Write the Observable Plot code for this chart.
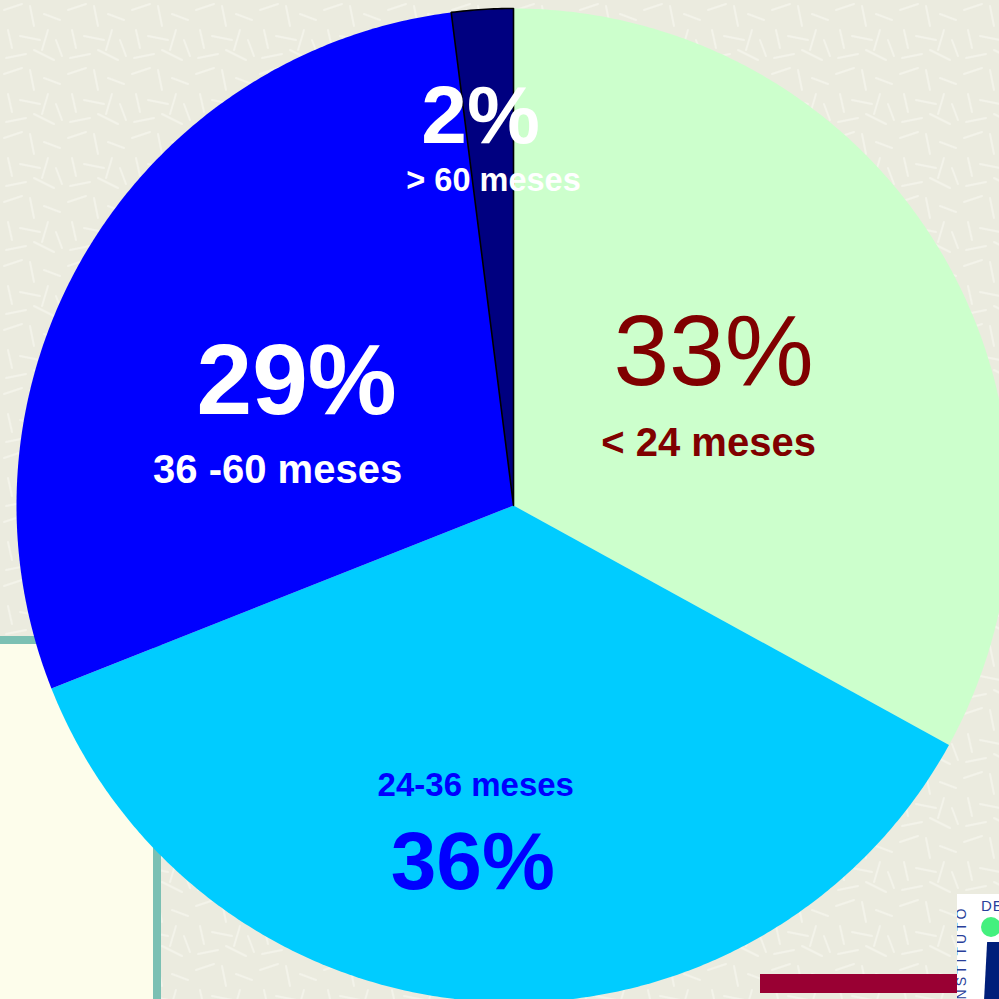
<!DOCTYPE html>
<html>
<head>
<meta charset="utf-8">
<script src="https://cdn.jsdelivr.net/npm/d3@7"></script>
<script src="https://cdn.jsdelivr.net/npm/@observablehq/plot@0.6"></script>
<style>
  html, body { margin: 0; padding: 0; }
  body { width: 999px; height: 999px; overflow: hidden; position: relative;
         background-color: #EBEBDF;
         background-image: url("data:image/svg+xml;utf8,<svg xmlns='http://www.w3.org/2000/svg' width='64' height='64'><g stroke='%23F5F5EC' stroke-width='2' stroke-linecap='round' fill='none' opacity='0.8'><path d='M4 10 L22 4'/><path d='M30 6 L34 26'/><path d='M44 14 L60 20'/><path d='M8 30 L12 48'/><path d='M20 36 L40 40'/><path d='M48 30 L42 50'/><path d='M6 58 L26 54'/><path d='M34 50 L54 60'/><path d='M56 40 L62 56'/></g></svg>");
         font-family: "Liberation Sans", Arial, sans-serif; }
  .deco { position: absolute; }
  #panel { left: 0; top: 636px; width: 153px; height: 400px; background: #FDFDEB;
           border-top: 8px solid #7BC0B3; border-right: 8px solid #7BC0B3; }
  #bar { left: 760px; top: 974px; width: 200px; height: 19px; background: #990033; }
  #logo { left: 957px; top: 894px; width: 60px; height: 120px; background: #FFFFFF; overflow: hidden; }
  #logo .v { position: absolute; left: -46px; top: 54px; transform: rotate(-90deg);
             color: #2A3F9A; font-size: 14px; letter-spacing: 3px; font-family: "Liberation Sans", Arial, sans-serif; white-space: nowrap; }
  #logo .de { position: absolute; left: 24px; top: 4px; color: #2A3F9A; font-size: 15px; letter-spacing: 1px; line-height: 15px; }
  #logo .dot { position: absolute; left: 24px; top: 23px; width: 20px; height: 20px; border-radius: 50%; background: #44F07E; }
  #logo .blk { position: absolute; left: 28px; top: 48px; width: 40px; height: 80px; background: #001E7A;
               transform: skewX(-3deg); }
  #chart { position: absolute; left: 0; top: 0; }
</style>
</head>
<body>
<div class="deco" id="panel"></div>
<div class="deco" id="bar"></div>
<div class="deco" id="logo">
  <div class="v">INSTITUTO</div>
  <div class="de">DE</div>
  <div class="dot"></div>
  <div class="blk"></div>
</div>
<div id="chart"></div>
<script>
// ---- data ----
const categories = ["< 24 meses", "24-36 meses", "36 -60 meses", "> 60 meses"];
const values = [33, 36, 29, 2];
const pctLabels = ["33%", "36%", "29%", "2%"];
const sliceColors = ["#CCFFCC", "#00CCFF", "#0000FF", "#000080"];

// ---- layout / styles (not data) ----
const R = 497;            // pie radius in px
const cx = 513, cy = 505; // pie centre in px
const W = 999, H = 999;
const labelStyle = [
  {r: 0.463, pct: [2, -3],   sub: [-3, 68],   color: "#800000", pctSize: 100, pctWeight: "normal", subSize: 40},
  {r: 0.664, pct: [-20, 54], sub: [-17, -39], color: "#0000FF", pctSize: 82,  pctWeight: "bold",   subSize: 33},
  {r: 0.521, pct: [6, 40],   sub: [-13, 109], color: "#FFFFFF", pctSize: 100, pctWeight: "bold",   subSize: 40},
  {r: 0.80,  pct: [-8, 34],  sub: [5, 82],    color: "#FFFFFF", pctSize: 82,  pctWeight: "bold",   subSize: 32.5}
];

const table = categories.map((c, i) => ({cat: c, value: values[i], pct: pctLabels[i], i}));
const arcs = d3.pie().sort(null).value(d => d.value)(table);

// polygon outline of each slice (pie geometry from d3.pie angles)
const pts = [];
arcs.forEach(a => {
  const n = Math.max(8, Math.ceil((a.endAngle - a.startAngle) * 120));
  pts.push({cat: a.data.cat, x: 0, y: 0});
  for (let k = 0; k <= n; k++) {
    const t = a.startAngle + (a.endAngle - a.startAngle) * k / n;
    pts.push({cat: a.data.cat, x: Math.sin(t), y: Math.cos(t)});
  }
  pts.push({cat: a.data.cat, x: 0, y: 0});
});

const labelMarks = [];
arcs.forEach(a => {
  const s = labelStyle[a.data.i];
  const mid = (a.startAngle + a.endAngle) / 2;
  const anchor = [{x: Math.sin(mid) * s.r, y: Math.cos(mid) * s.r, pct: a.data.pct, cat: a.data.cat}];
  labelMarks.push(Plot.text(anchor, {
    x: "x", y: "y", text: "pct", dx: s.pct[0], dy: s.pct[1], lineAnchor: "bottom",
    fill: s.color, fontSize: s.pctSize, fontWeight: s.pctWeight,
    fontFamily: "Liberation Sans, Arial, sans-serif"
  }));
  labelMarks.push(Plot.text(anchor, {
    x: "x", y: "y", text: "cat", dx: s.sub[0], dy: s.sub[1], lineAnchor: "bottom",
    fill: s.color, fontSize: s.subSize, fontWeight: "bold",
    fontFamily: "Liberation Sans, Arial, sans-serif"
  }));
});

const chart = Plot.plot({
  width: W, height: H,
  margin: 0,
  style: {background: "transparent", overflow: "hidden"},
  x: {domain: [-cx / R, (W - cx) / R], range: [0, W], axis: null},
  y: {domain: [-(H - cy) / R, cy / R], range: [H, 0], axis: null},
  color: {domain: categories, range: sliceColors},
  marks: [
    Plot.line(pts, {x: "x", y: "y", z: "cat", fill: "cat", stroke: "none", curve: "linear"}),
    Plot.line(pts.filter(d => d.cat === "> 60 meses"), {x: "x", y: "y", z: "cat", fill: "none", stroke: "#000000", strokeWidth: 1.6, curve: "linear"}),
    ...labelMarks
  ]
});
document.getElementById("chart").appendChild(chart);
</script>
</body>
</html>
